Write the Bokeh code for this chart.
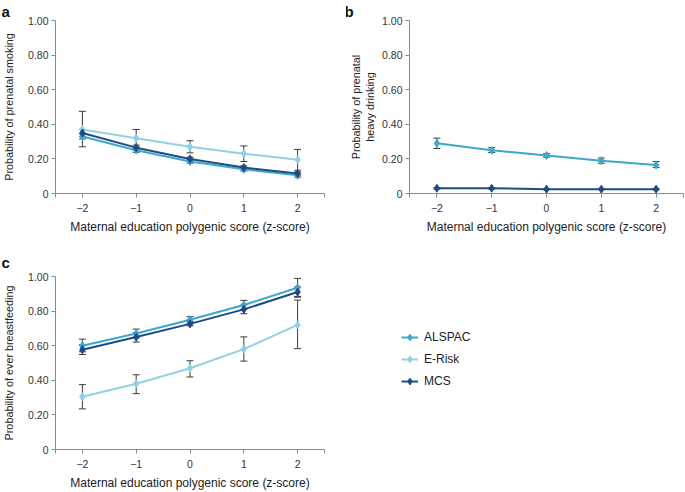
from bokeh.plotting import figure
from bokeh.models import (ColumnDataSource, FixedTicker, NumeralTickFormatter,
                          Whisker, TeeHead, Legend, LegendItem, Range1d)
from bokeh.layouts import row, column
from bokeh.embed import file_html
from bokeh.resources import INLINE

# data
z = [-2, -1, 0, 1, 2]

smoke_alspac = [0.33, 0.25, 0.185, 0.14, 0.105]
smoke_alspac_lo = [0.315, 0.238, 0.175, 0.13, 0.095]
smoke_alspac_hi = [0.345, 0.262, 0.195, 0.15, 0.115]
smoke_erisk = [0.37, 0.32, 0.27, 0.23, 0.195]
smoke_erisk_lo = [0.27, 0.27, 0.235, 0.185, 0.135]
smoke_erisk_hi = [0.475, 0.37, 0.305, 0.275, 0.255]
smoke_mcs = [0.35, 0.265, 0.20, 0.15, 0.115]
smoke_mcs_lo = [0.33, 0.25, 0.19, 0.14, 0.105]
smoke_mcs_hi = [0.37, 0.28, 0.21, 0.16, 0.125]

drink_alspac = [0.29, 0.25, 0.22, 0.19, 0.165]
drink_alspac_lo = [0.26, 0.237, 0.21, 0.175, 0.15]
drink_alspac_hi = [0.32, 0.265, 0.23, 0.205, 0.185]
drink_mcs = [0.03, 0.03, 0.025, 0.025, 0.025]
drink_mcs_lo = [0.026, 0.026, 0.022, 0.022, 0.021]
drink_mcs_hi = [0.034, 0.034, 0.028, 0.028, 0.029]

breast_alspac = [0.60, 0.67, 0.75, 0.835, 0.935]
breast_alspac_lo = [0.565, 0.645, 0.73, 0.81, 0.885]
breast_alspac_hi = [0.638, 0.696, 0.768, 0.862, 0.989]
breast_erisk = [0.305, 0.38, 0.47, 0.58, 0.72]
breast_erisk_lo = [0.235, 0.323, 0.419, 0.511, 0.583]
breast_erisk_hi = [0.375, 0.432, 0.513, 0.651, 0.864]
breast_mcs = [0.577, 0.65, 0.726, 0.81, 0.91]
breast_mcs_lo = [0.549, 0.621, 0.715, 0.785, 0.88]
breast_mcs_hi = [0.605, 0.675, 0.74, 0.835, 0.94]

series_names = ["ALSPAC", "E-Risk", "MCS"]

x_ticks = [-2.5, -2, -1, 0, 1, 2, 2.5]
x_labels = {-2.5: "", -2: "\u22122", -1: "\u22121", 0: "0", 1: "1", 2: "2", 2.5: ""}
y_ticks = [0, 0.2, 0.4, 0.6, 0.8, 1.0]

colors = {"ALSPAC": "#3ea8cb", "E-Risk": "#92d1e4", "MCS": "#1f4b84"}
err_color = "#3c3c3c"
FONT = "Liberation Sans"
xlabel = "Maternal education polygenic score (z-score)"


def panel(letter, ylabel, series, width, height, left, top, bottom, right,
          letter_gap, ylabel_standoff):
    p = figure(width=width, height=height, x_range=Range1d(-2.5, 2.5),
               y_range=Range1d(0, 1.0), output_backend="svg",
               toolbar_location=None, min_border_left=left,
               min_border_top=top, min_border_bottom=bottom,
               min_border_right=right)
    p.outline_line_color = None
    p.grid.visible = False

    # panel letter as the title, pushed to the left edge
    p.title.text = letter
    p.title.text_font = FONT
    p.title.text_font_size = "15px"
    p.title.text_font_style = "bold"
    p.title.text_color = "#111111"
    p.title.align = "left"
    p.title.offset = -(left + 3)
    p.title.standoff = letter_gap

    p.xaxis.ticker = FixedTicker(ticks=x_ticks)
    p.xaxis.major_label_overrides = x_labels
    p.yaxis.ticker = FixedTicker(ticks=y_ticks)
    p.yaxis.formatter = NumeralTickFormatter(format="0.00")
    p.yaxis.major_label_overrides = {0: "0"}
    p.xaxis.axis_label = xlabel
    p.yaxis.axis_label = ylabel
    for ax in (p.xaxis, p.yaxis):
        ax.axis_line_color = "#8a8a8a"
        ax.major_tick_line_color = "#8a8a8a"
        ax.minor_tick_line_color = None
        ax.major_tick_in = 0
        ax.major_tick_out = 4
        ax.major_label_text_font = FONT
        ax.major_label_text_font_size = "10.5px"
        ax.major_label_text_color = "#333333"
        ax.axis_label_text_font = FONT
        ax.axis_label_text_font_style = "normal"
        ax.axis_label_text_color = "#222222"
    p.xaxis.axis_label_text_font_size = "12px"
    p.yaxis.axis_label_text_font_size = "10.8px"
    p.xaxis.major_label_standoff = 6
    p.xaxis.axis_label_standoff = 5
    p.yaxis.major_label_standoff = 3
    p.yaxis.axis_label_standoff = ylabel_standoff

    for name, y, lo, hi in series:
        src = ColumnDataSource(dict(x=z, y=y, lo=lo, hi=hi))
        p.line("x", "y", source=src, line_color=colors[name], line_width=2)
        p.scatter("x", "y", source=src, marker="diamond", size=8,
                  fill_color=colors[name], line_color=colors[name])
        w = Whisker(base="x", lower="lo", upper="hi", source=src,
                    line_color=err_color, line_width=1,
                    upper_head=TeeHead(size=7, line_color=err_color, line_width=1),
                    lower_head=TeeHead(size=7, line_color=err_color, line_width=1))
        p.add_layout(w)
    return p


pa = panel("a", "Probability of prenatal smoking",
           [("ALSPAC", smoke_alspac, smoke_alspac_lo, smoke_alspac_hi),
            ("E-Risk", smoke_erisk, smoke_erisk_lo, smoke_erisk_hi),
            ("MCS", smoke_mcs, smoke_mcs_lo, smoke_mcs_hi)],
           346, 236, 51, 19, 40, 22, 1, 10)

pb = panel("b", "Probability of prenatal\nheavy drinking",
           [("ALSPAC", drink_alspac, drink_alspac_lo, drink_alspac_hi),
            ("MCS", drink_mcs, drink_mcs_lo, drink_mcs_hi)],
           339, 236, 62, 19, 40, 2, 1, 3)

pc = panel("c", "Probability of ever breastfeeding",
           [("ALSPAC", breast_alspac, breast_alspac_lo, breast_alspac_hi),
            ("E-Risk", breast_erisk, breast_erisk_lo, breast_erisk_hi),
            ("MCS", breast_mcs, breast_mcs_lo, breast_mcs_hi)],
           346, 256, 51, 40, 39, 22, 12, 10)

# legend panel (no axes, legend only), same frame band as panel c
pl = figure(width=339, height=256, x_range=Range1d(0, 1), y_range=Range1d(0, 1),
            output_backend="svg", toolbar_location=None,
            x_axis_location=None, y_axis_location=None,
            min_border_left=0, min_border_right=0, min_border_top=40,
            min_border_bottom=39)
pl.grid.visible = False
pl.outline_line_color = None
items = []
for name in series_names:
    src = ColumnDataSource(dict(x=[float("nan")], y=[float("nan")]))
    r1 = pl.line("x", "y", source=src, line_color=colors[name], line_width=2)
    r2 = pl.scatter("x", "y", source=src, marker="diamond", size=6,
                    fill_color=colors[name], line_color=colors[name])
    items.append(LegendItem(label=name, renderers=[r1, r2]))
legend = Legend(items=items, location=(55, 58), border_line_color=None,
                background_fill_alpha=0, padding=0, margin=0, spacing=2,
                glyph_width=17, glyph_height=20, label_height=20,
                label_standoff=6, label_text_font=FONT,
                label_text_font_size="12px", label_text_color="#222222")
pl.add_layout(legend)

layout = column(row(pa, pb), row(pc, pl))

open("out.html", "w").write(file_html(layout, INLINE))
